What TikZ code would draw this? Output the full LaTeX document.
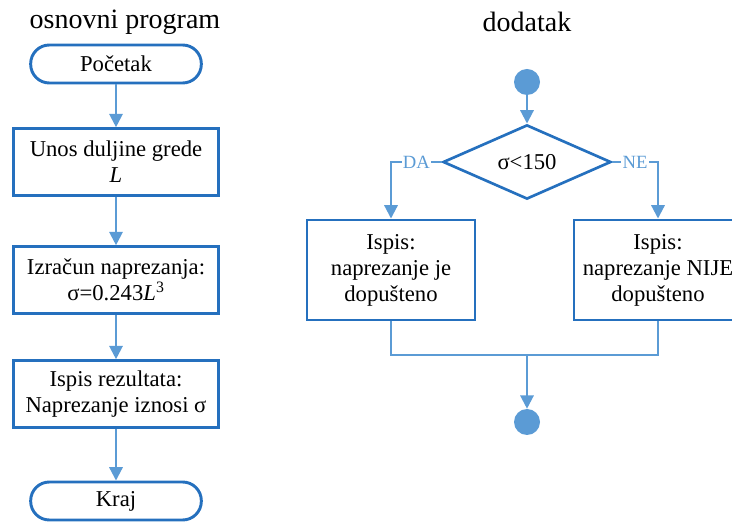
\documentclass[tikz,border=0pt]{standalone}
\usepackage{fontspec}
\setmainfont{Liberation Serif}
\usetikzlibrary{shapes.geometric,arrows.meta}
\definecolor{boxblue}{HTML}{2570BE}
\definecolor{linblue}{HTML}{5B9BD5}
\begin{document}
\begin{tikzpicture}[x=0.75pt,y=-0.75pt,
  every node/.style={font=\rmfamily\fontsize{17}{19.5}\selectfont, align=center, inner sep=0pt},
  title/.style={font=\rmfamily\fontsize{21}{24}\selectfont},
  proc/.style={draw=boxblue, line width=2.2pt, fill=white, minimum width=153.75pt, minimum height=50pt},
  rproc/.style={draw=boxblue, line width=2.2pt, fill=white, minimum width=126pt, minimum height=75pt},
  term/.style={draw=boxblue, line width=2.2pt, fill=white, rounded corners=14pt, minimum width=128pt, minimum height=28.5pt},
  dec/.style={diamond, draw=boxblue, line width=2pt, fill=white, minimum width=126pt, minimum height=50pt},
  dot/.style={circle, fill=linblue, minimum size=19.5pt},
  conn/.style={draw=linblue, line width=1.6pt},
  arr/.style={conn, -{Triangle[width=10pt,length=10pt]}},
  lbl/.style={fill=white, text=linblue, font=\rmfamily\fontsize{14}{15}\selectfont, inner sep=1pt}]
\useasboundingbox (0,0) rectangle (732,523);
\begin{scope}
\clip (0,0) rectangle (732,523);
% left column
\node[title] (t1) at (125,22) {osnovni program};
\node[term] (start) at (116,64) {Početak};
\node[proc] (p1) at (116,162) {Unos duljine grede\\\textit{L}};
\node[proc] (p2) at (116,280) {Izračun naprezanja:\\σ=0.243\textit{L}\textsuperscript{3}};
\node[proc] (p3) at (116,394) {Ispis rezultata:\\Naprezanje iznosi σ};
\node[term] (end) at (116,501) {Kraj};
\draw[arr] (start) -- (p1);
\draw[arr] (p1) -- (p2);
\draw[arr] (p2) -- (p3);
\draw[arr] (p3) -- (end);
% right part
\node[title] (t2) at (527,22) {dodatak};
\node[dot] (c1) at (527,82) {};
\node[dec] (d) at (527,162) {σ<150};
\node[rproc] (lb) at (391,270) {Ispis:\\naprezanje je\\dopušteno};
\node[rproc] (rb) at (658,270) {Ispis:\\naprezanje NIJE\\dopušteno};
\node[dot] (c2) at (527,422) {};
\coordinate (mj) at (527,355);
\draw[arr] (c1) -- (d);
\draw[arr] (d.west) -| node[lbl, pos=0.25] {DA} (lb.north);
\draw[arr] (d.east) -| node[lbl, pos=0.25] {NE} (rb.north);
\draw[conn] (lb.south) |- (mj) -| (rb.south);
\draw[arr] (mj) -- (c2);
\end{scope}
\end{tikzpicture}
\end{document}
